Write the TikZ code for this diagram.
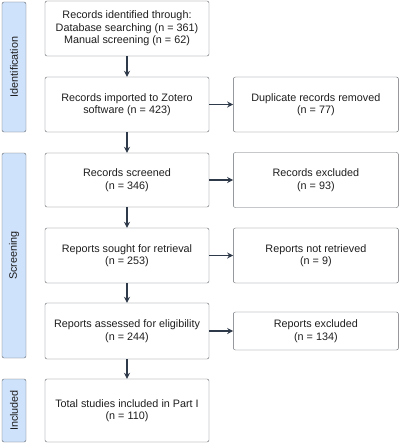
\documentclass[tikz,border=0pt]{standalone}
\usepackage{fontspec}
\setmainfont{Liberation Sans}
\usepackage{xcolor}
\usetikzlibrary{arrows.meta, positioning}

\definecolor{edgegray}{HTML}{5F6368}
\definecolor{phaseblue}{HTML}{CFE2FB}
\definecolor{arrowdark}{HTML}{2E3A4A}
\definecolor{textdark}{HTML}{1E1E1E}

\begin{document}
\begin{tikzpicture}[
    x=1pt, y=-1pt,
    font=\fontsize{10.8}{12.5}\selectfont, text=textdark,
    box/.style={rectangle, draw=edgegray, rounded corners=2pt, minimum width=164pt, minimum height=55pt, align=center, fill=white},
    sidebox/.style={box, minimum width=165pt},
    phase/.style={rectangle, draw=edgegray, rounded corners=2pt, fill=phaseblue, minimum width=24pt, inner sep=0pt},
    flow/.style={-{Stealth[length=6pt, width=6pt]}, line width=1.5pt, draw=arrowdark}
]
\useasboundingbox (0,0) rectangle (400,444);

% phases
\node[phase, minimum height=130pt] (ident) at (14,67) {};
\node[rotate=90] at (ident.center) {Identification};
\node[phase, minimum height=205pt] (screen) at (14,255.5) {};
\node[rotate=90] at (screen.center) {Screening};
\node[phase, minimum height=63pt] (incl) at (14,410.5) {};
\node[rotate=90] at (incl.center) {Included};

% main column
\node[box] (found) at (127,28.5) {Records identified through:\\Database searching (n = 361)\\Manual screening (n = 62)};
\node[box] (zotero) at (127,104.5) {Records imported to Zotero\\software (n = 423)};
\node[box, minimum height=54pt] (screened) at (127,180) {Records screened\\(n = 346)};
\node[box] (sought) at (127,255.5) {Reports sought for retrieval\\(n = 253)};
\node[box, minimum height=56pt] (assessed) at (127,331) {Reports assessed for eligibility\\(n = 244)};
\node[box, minimum height=63pt] (included) at (127,410.5) {Total studies included in Part I\\(n = 110)};

% side column
\node[sidebox, right=24pt of zotero] (dup) {Duplicate records removed\\(n = 77)};
\node[sidebox, right=24pt of screened] (excl) {Records excluded\\(n = 93)};
\node[sidebox, right=24pt of sought] (notret) {Reports not retrieved\\(n = 9)};
\node[sidebox, minimum height=38pt, right=24pt of assessed] (repexcl) {Reports excluded\\(n = 134)};

\draw[flow] (found) -- (zotero);
\draw[flow] (zotero) -- (screened);
\draw[flow] (screened) -- (sought);
\draw[flow] (sought) -- (assessed);
\draw[flow] (assessed) -- (included);

\draw[flow] (zotero) -- (dup);
\draw[flow] (screened) -- (excl);
\draw[flow] (sought) -- (notret);
\draw[flow] (assessed) -- (repexcl);
\end{tikzpicture}
\end{document}
